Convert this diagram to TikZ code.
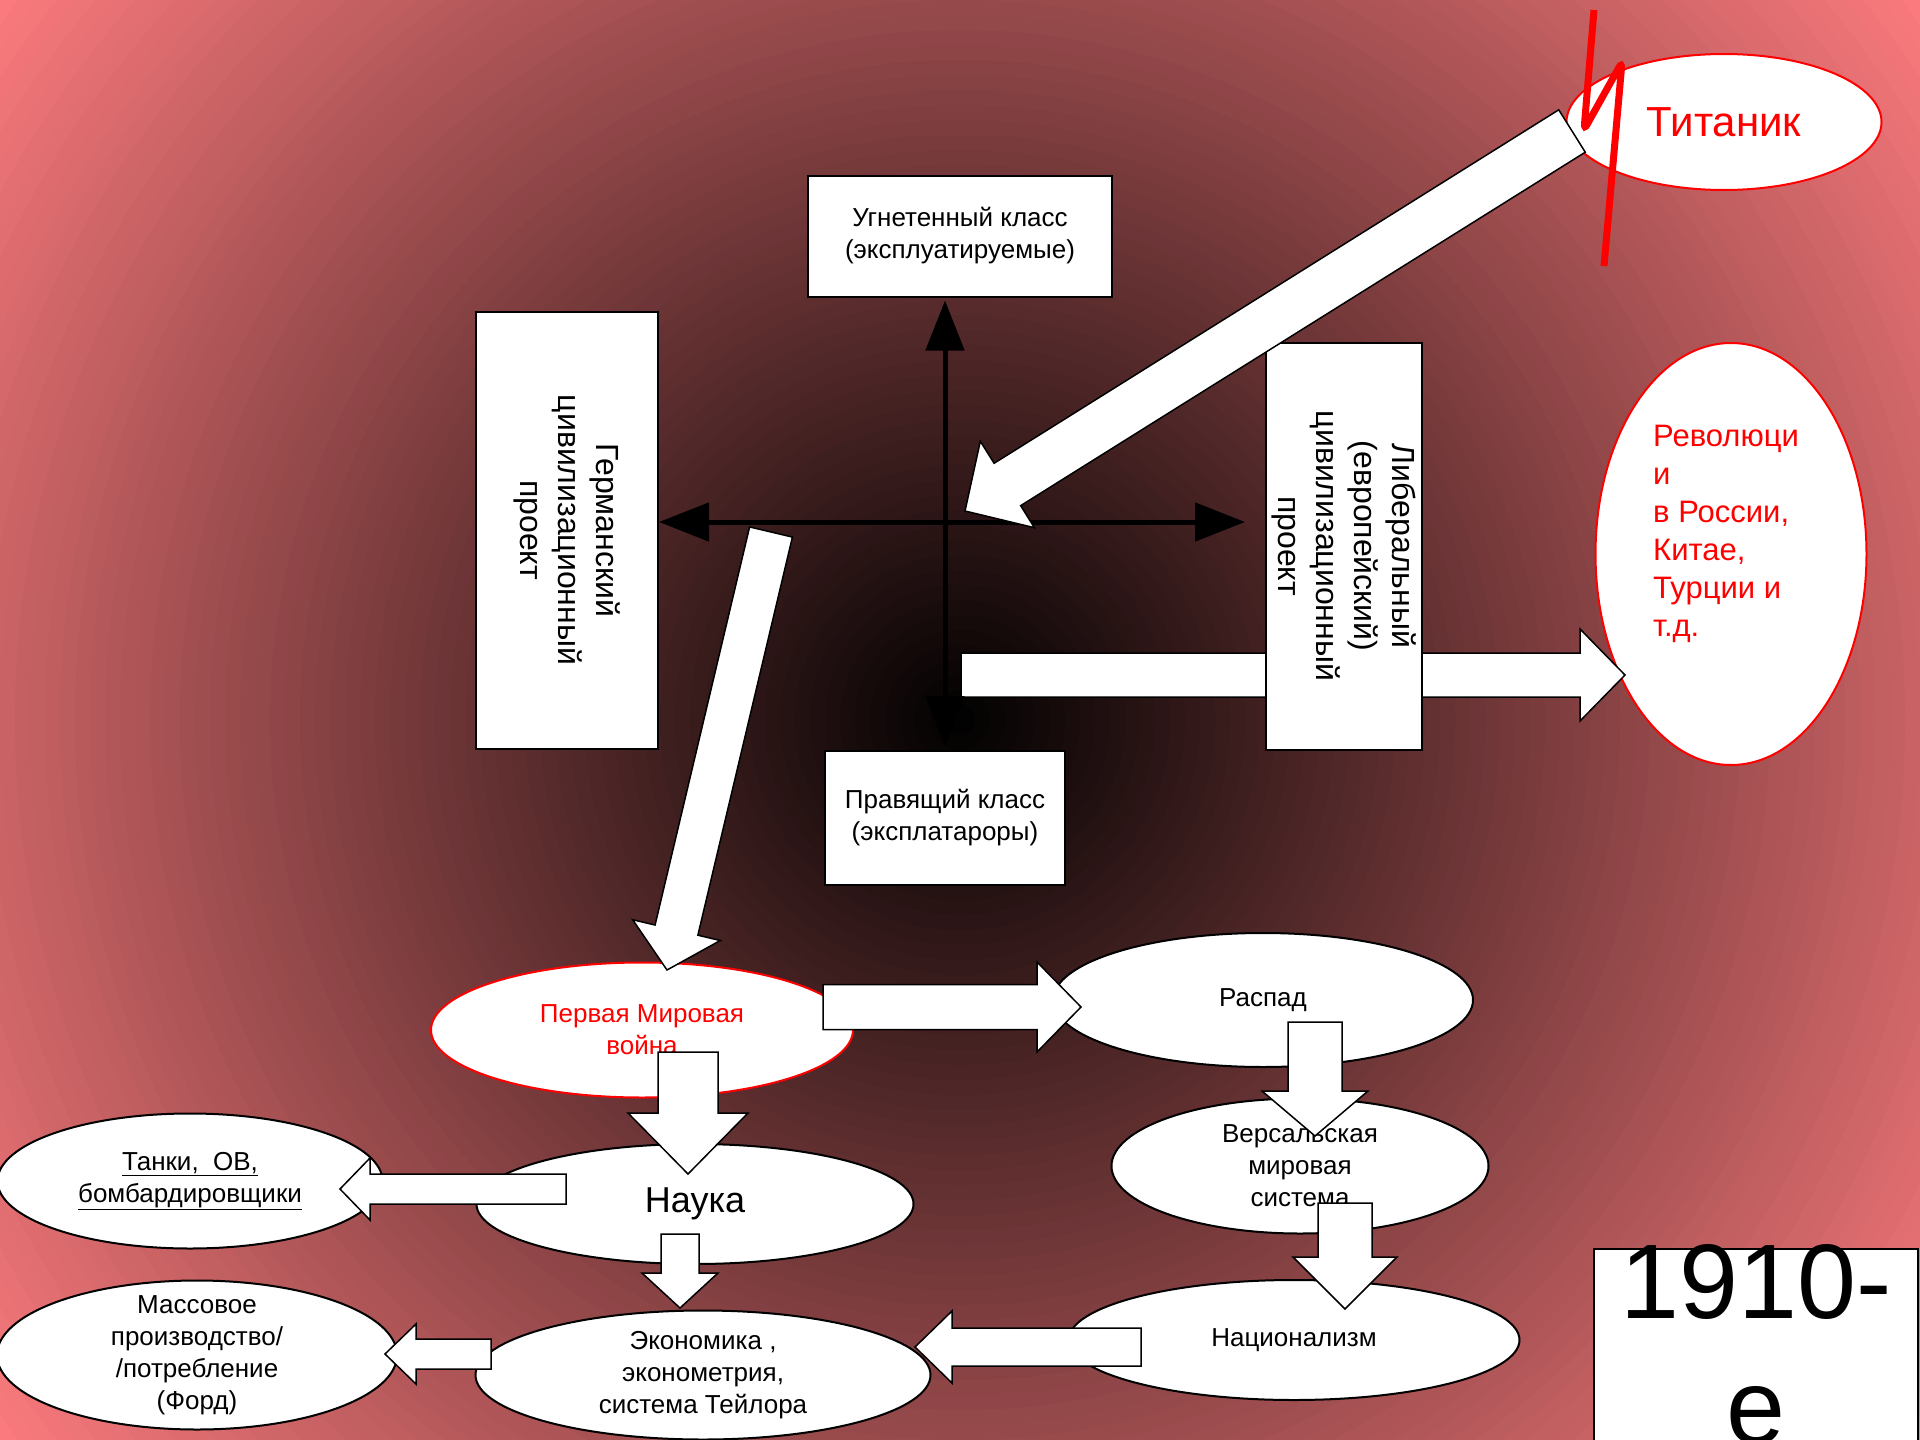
\documentclass[tikz,border=0pt]{standalone}
\usepackage{fontspec}
\setmainfont{Liberation Sans}
\usetikzlibrary{shapes.geometric,calc,arrows.meta}
\definecolor{glowpink}{RGB}{250,122,125}
\newcommand{\fsz}[2]{\fontsize{#1}{#2}\selectfont}
% wide white arrow: tail, tip, half shaft, half head, head length
\newcommand{\fatarrow}[5]{%
  \coordinate (headbase) at ($(#2)!#5!(#1)$);
  \draw[fatarr] ($(#1)!#3!90:(#2)$) -- ($(headbase)!#3!90:(#2)$)
    -- ($(headbase)!#4!90:(#2)$) -- (#2) -- ($(headbase)!#4!-90:(#2)$)
    -- ($(headbase)!#3!-90:(#2)$) -- ($(#1)!#3!-90:(#2)$) -- cycle;}

\begin{document}
\begin{tikzpicture}[x=1pt, y=-1pt,
    box/.style={draw, line width=2pt, fill=white, inner sep=0pt, align=center, font=\fsz{26}{32}},
    oval/.style={ellipse, draw, line width=2pt, fill=white, inner sep=-20pt, align=center, font=\fsz{26}{32}},
    redoval/.style={oval, draw=red, text=red},
    fatarr/.style={draw, line width=1.5pt, fill=white},
    axis/.style={line width=5pt, {Triangle[length=50pt,width=38pt]}-{Triangle[length=50pt,width=38pt]}}
]
\useasboundingbox (0,0) rectangle (1920,1440);
% background glow, dark in the middle
\begin{scope}
  \clip (0,0) rectangle (1920,1440);
  \fill[glowpink] (0,0) rectangle (1920,1440);
  \foreach \r [evaluate=\r as \p using 1.25*\r] in {80,...,1}
    \fill[glowpink!\p!black] (960,720) circle[radius=15*\r pt];
\end{scope}

% top right
\node[redoval, minimum width=315pt, minimum height=136pt, font=\fsz{42}{50}] (tit) at (1724,122) {Титаник};
\node[redoval, minimum width=271pt, minimum height=422pt] (rev) at (1731,554) {};
\node[anchor=north west, inner sep=0pt, align=left, text=red, font=\fsz{31}{38}] (revtext) at (1653,425)
    {Революци\\и\\в России,\\Китае,\\Турции и\\т.д.};

% class cross
\node[box, minimum width=304pt, minimum height=121pt] (oppr) at (960,236) {Угнетенный класс\\(эксплуатируемые)};
\node[box, minimum width=240pt, minimum height=134pt] (rule) at (945,818) {Правящий класс\\(эксплатароры)};
\node[box, rotate=-90, minimum width=437pt, minimum height=182pt, font=\fsz{32}{38}] (germ) at (567,530)
    {Германский\\цивилизационный\\проект};

\coordinate (revA) at (961,675);
\coordinate (revB) at (1625,675);
\fatarrow{revA}{revB}{22pt}{46pt}{45pt}

\node[box, rotate=-90, minimum width=407pt, minimum height=156pt, font=\fsz{32}{38}] (lib) at (1344,546)
    {Либеральный\\(европейский)\\цивилизационный\\проект};

\coordinate (cross) at (945,522);
\draw[axis, shorten <=3pt, shorten >=4pt] (oppr.south -| cross) -- (rule.north -| cross);
\draw[axis, shorten >=20pt] (germ.north |- cross) -- (lib.south |- cross);

\coordinate (titA) at (1572,131);
\coordinate (titB) at (965,511);
\fatarrow{titA}{titB}{25pt}{51pt}{50pt}

\draw[red, line width=7pt, rounded corners=6pt] (1594,10) -- (1584,130) -- (1622,62) -- (1604,266);

% consequences
\node[redoval, minimum width=422pt, minimum height=135pt] (war) at (642,1030) {Первая Мировая\\война};
\node[oval, minimum width=420pt, minimum height=134pt] (decay) at (1263,1000) {Распад};
\node[oval, minimum width=377pt, minimum height=135pt] (vers) at (1300,1166) {Версальская\\мировая\\система};
\node[oval, minimum width=437pt, minimum height=120pt, font=\fsz{36}{42}] (sci) at (695,1204) {Наука};
\node[oval, minimum width=385pt, minimum height=135pt] (tanks) at (190,1181)
    {\underline{Танки,\ \ ОВ,}\\\underline{бомбардировщики}};
\node[oval, minimum width=400pt, minimum height=149pt] (mass) at (197,1355)
    {Массовое\\производство/\\/потребление\\(Форд)};
\node[oval, minimum width=455pt, minimum height=129pt] (econ) at (703,1375)
    {Экономика ,\\эконометрия,\\система Тейлора};
\node[oval, minimum width=451pt, minimum height=120pt] (nat) at (1294,1340) {Национализм};

\coordinate (gwA) at (771,532);
\coordinate (gwB) at (667,970);
\fatarrow{gwA}{gwB}{22pt}{45pt}{41pt}

\coordinate (wdA) at (823,1007);
\coordinate (wdB) at (1081,1007);
\fatarrow{wdA}{wdB}{22.5pt}{45pt}{44pt}

\coordinate (wsA) at (688,1052);
\coordinate (wsB) at (688,1174);
\fatarrow{wsA}{wsB}{30pt}{60pt}{61pt}

\coordinate (dvA) at (1315,1022);
\coordinate (dvB) at (1315,1136);
\fatarrow{dvA}{dvB}{27pt}{53pt}{45pt}

\coordinate (vnA) at (1345,1203);
\coordinate (vnB) at (1345,1309);
\fatarrow{vnA}{vnB}{27pt}{52pt}{52pt}

\coordinate (neA) at (1141,1347);
\coordinate (neB) at (915,1347);
\fatarrow{neA}{neB}{19pt}{36pt}{37pt}

\coordinate (stA) at (566,1189);
\coordinate (stB) at (340,1189);
\fatarrow{stA}{stB}{15pt}{31pt}{30pt}

\coordinate (seA) at (680,1234);
\coordinate (seB) at (680,1308);
\fatarrow{seA}{seB}{19pt}{38pt}{35pt}

\coordinate (emA) at (491,1354);
\coordinate (emB) at (385,1354);
\fatarrow{emA}{emB}{15pt}{30pt}{31pt}

% decade
\node[box, minimum width=324pt, minimum height=211pt] (era) at (1756,1354) {};
\node[anchor=north, inner sep=0pt, align=center, font=\fsz{106}{125}] (eratext) at (1756,1244) {1910-\\е};
\end{tikzpicture}
\end{document}
